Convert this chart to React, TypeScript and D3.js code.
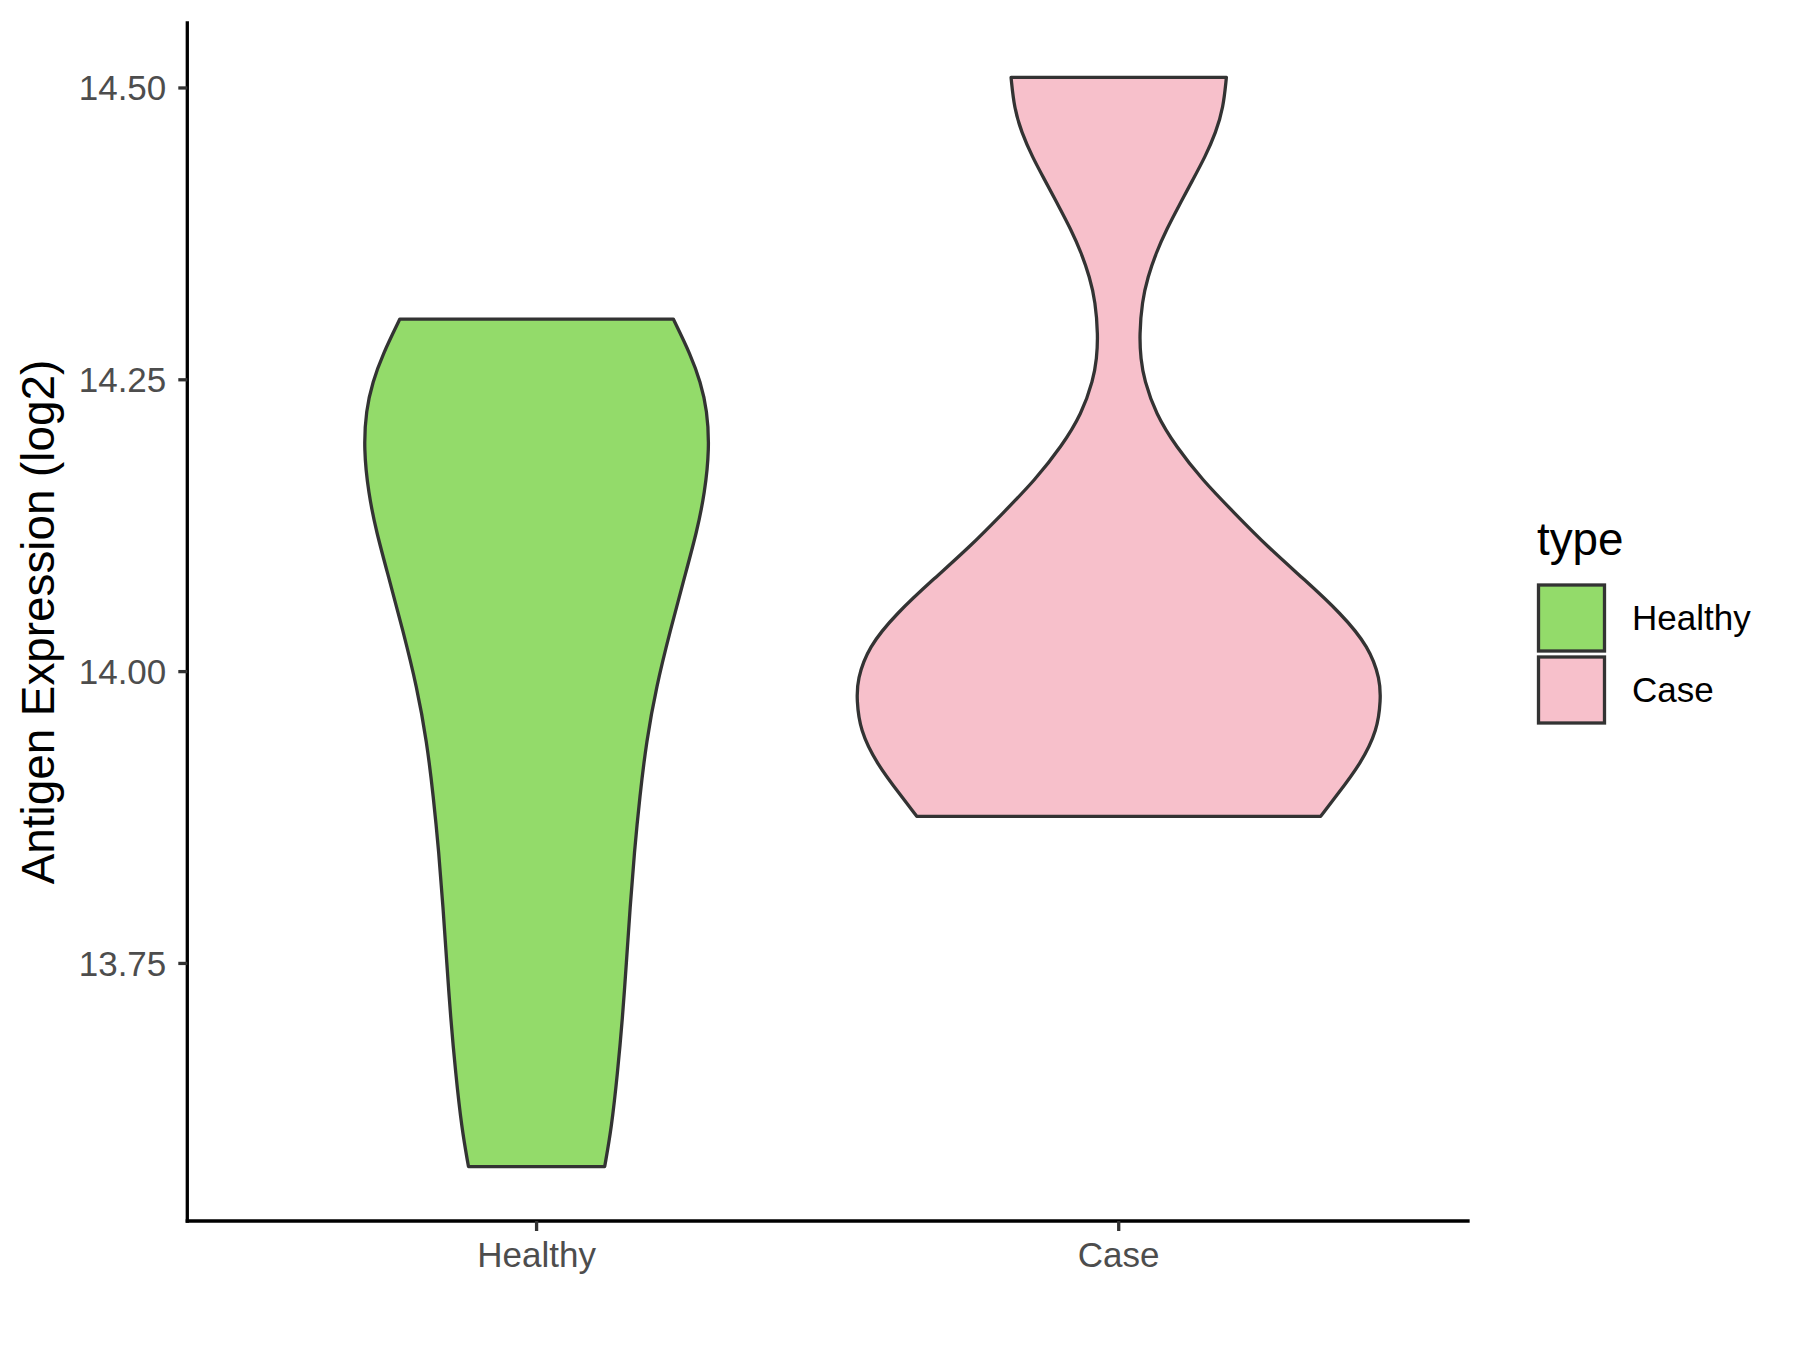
import React from "react";
import * as d3 from "d3";

// ---- data ----
const categories = ["Healthy", "Case"];
const fillColors = ["#93DB6A", "#F7C0CB"];

// expression value (log2) and relative violin width (density, max = 1)
const healthyValues = [13.576, 13.609, 13.656, 13.703, 13.751, 13.798, 13.845, 13.893, 13.94, 13.987, 14.035, 14.082, 14.12, 14.153, 14.191, 14.224, 14.248, 14.2715, 14.302];
const healthyDensity = [0.26, 0.286, 0.309, 0.328, 0.343, 0.357, 0.373, 0.394, 0.419, 0.457, 0.51, 0.566, 0.612, 0.642, 0.66, 0.651, 0.626, 0.588, 0.522];

const caseValues = [13.876, 13.893, 13.921, 13.95, 13.976, 13.993, 14.021, 14.05, 14.079, 14.107, 14.136, 14.164, 14.193, 14.221, 14.25, 14.268, 14.288, 14.317, 14.338, 14.359, 14.379, 14.4, 14.421, 14.441, 14.462, 14.4827, 14.509];
const caseDensity = [0.771, 0.829, 0.924, 0.988, 1.0, 0.998, 0.956, 0.848, 0.708, 0.568, 0.441, 0.32, 0.218, 0.141, 0.097, 0.084, 0.079, 0.089, 0.111, 0.143, 0.183, 0.232, 0.282, 0.33, 0.371, 0.399, 0.411];

const yTicks = [13.75, 14.0, 14.25, 14.5];
const yLabel = "Antigen Expression (log2)";
const legendTitle = "type";

const series = [
  { name: categories[0], values: healthyValues, density: healthyDensity, fill: fillColors[0] },
  { name: categories[1], values: caseValues, density: caseDensity, fill: fillColors[1] },
];

const FONT = "'Liberation Sans', Arial, Helvetica, sans-serif";

export default function App() {
  const W = 1800, H = 1350;
  const left = 187.3, right = 1468, top = 23, bottom = 1221;

  const allVals = [...healthyValues, ...caseValues];
  const vMin = d3.min(allVals) as number;
  const vMax = d3.max(allVals) as number;
  const pad = (vMax - vMin) * 0.05;

  const y = d3.scaleLinear().domain([vMin - pad, vMax + pad]).range([bottom, top]);
  const x = d3.scalePoint<string>().domain(categories).range([left, right]).padding(0.6);
  const step = x.step();
  const maxHalf = 0.45 * step;
  const w = d3.scaleLinear().domain([0, 1]).range([0, maxHalf]);

  const violins = series.map((s) => {
    const cx = x(s.name) as number;
    const pts = s.values.map((v, i) => ({ v, d: s.density[i] }));
    const area = d3
      .area<{ v: number; d: number }>()
      .y((p) => y(p.v))
      .x0((p) => cx - w(p.d))
      .x1((p) => cx + w(p.d))
      .curve(d3.curveBasis);
    return { ...s, path: area(pts) as string };
  });

  const tickColor = "#333333";
  const labelColor = "#4D4D4D";

  return (
    <svg
      width={W}
      height={H}
      viewBox={`0 0 ${W} ${H}`}
      style={{ position: "absolute", left: 0, top: 0, background: "#fff" }}
    >
      <rect x={0} y={0} width={W} height={H} fill="#ffffff" />
      {/* violins */}
      {violins.map((v) => (
        <path key={v.name} d={v.path} fill={v.fill} stroke="#333333" strokeWidth={3.3} strokeLinejoin="round" />
      ))}

      {/* y axis */}
      <line x1={left} x2={left} y1={top} y2={bottom} stroke="#000" strokeWidth={3.3} strokeLinecap="square" />
      {yTicks.map((t) => (
        <g key={t}>
          <line x1={left - 9} x2={left} y1={y(t)} y2={y(t)} stroke={tickColor} strokeWidth={3.3} />
          <text
            x={left - 21}
            y={y(t)}
            dy="0.35em"
            textAnchor="end"
            fontFamily={FONT}
            fontSize={35}
            fill={labelColor}
          >
            {d3.format(".2f")(t)}
          </text>
        </g>
      ))}

      {/* x axis */}
      <line x1={left} x2={right} y1={bottom} y2={bottom} stroke="#000" strokeWidth={3.3} strokeLinecap="square" />
      {categories.map((c) => (
        <g key={c}>
          <line x1={x(c)} x2={x(c)} y1={bottom} y2={bottom + 10} stroke={tickColor} strokeWidth={3.3} />
          <text
            x={x(c)}
            y={bottom + 46}
            textAnchor="middle"
            fontFamily={FONT}
            fontSize={35}
            fill={labelColor}
          >
            {c}
          </text>
        </g>
      ))}

      {/* y axis title */}
      <text
        transform={`translate(54, ${(top + bottom) / 2}) rotate(-90)`}
        textAnchor="middle"
        fontFamily={FONT}
        fontSize={45.8}
        fill="#000"
      >
        {yLabel}
      </text>

      {/* legend */}
      <text x={1537} y={555} fontFamily={FONT} fontSize={45.8} fill="#000">
        {legendTitle}
      </text>
      {series.map((s, i) => {
        const ky = 585 + i * 72;
        return (
          <g key={s.name}>
            <rect x={1538.5} y={ky} width={66} height={66} fill={s.fill} stroke="#333333" strokeWidth={3.3} />
            <text x={1632} y={ky + 33} dy="0.35em" fontFamily={FONT} fontSize={35} fill="#000">
              {s.name}
            </text>
          </g>
        );
      })}
    </svg>
  );
}
